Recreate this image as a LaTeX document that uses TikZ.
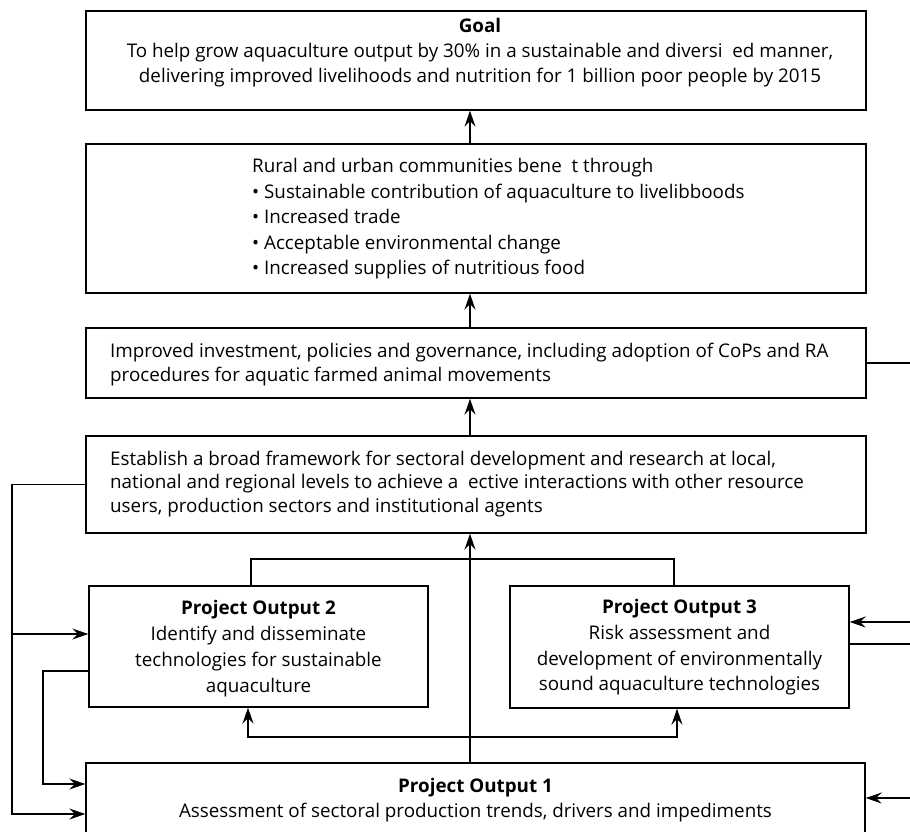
\documentclass[tikz,border=0pt]{standalone}
\usepackage{fontspec}
\setmainfont{Open Sans}
\usetikzlibrary{arrows.meta}
\begin{document}
\begin{tikzpicture}[x=1pt,y=-1pt,
  boxnode/.style={draw, line width=1.4pt, inner sep=0pt, minimum width=780pt},
  txt/.style={inner sep=0pt, font=\fontsize{18.8}{25}\selectfont},
  conn/.style={line width=1.3pt},
  arr/.style={line width=1.3pt, -{Stealth[length=16pt,width=11pt,inset=5.5pt]}},
  darr/.style={line width=1.3pt, {Stealth[length=16pt,width=11pt,inset=5.5pt]}-{Stealth[length=16pt,width=11pt,inset=5.5pt]}}]
\useasboundingbox (0,0) rectangle (910,831);
\clip (0,0) rectangle (910,831);
% boxes
\node[boxnode, minimum height=99pt] (goal) at (476,60.5) {};
\node[boxnode, minimum height=149pt] (out) at (476,218.5) {};
\node[boxnode, minimum height=70pt] (inv) at (476,363) {};
\node[boxnode, minimum height=97pt] (frame) at (476,484.5) {};
\node[boxnode, minimum width=339pt, minimum height=121pt] (p2) at (258.5,646.5) {};
\node[boxnode, minimum width=339pt, minimum height=122pt] (p3) at (679.5,647) {};
\node[boxnode, minimum width=779pt, minimum height=77pt] (p1) at (475.5,801.5) {};
% texts
\node[txt, align=center] (goalt) at (480,53) {\textbf{Goal}\\To help grow aquaculture output by 30\% in a sustainable and diversi~~ed manner,\\delivering improved livelihoods and nutrition for 1 billion poor people by 2015};
\node[txt, align=left, anchor=west, font=\fontsize{18.8}{25.5}\selectfont] (outt) at (252,219) {Rural and urban communities bene~~t through\\• Sustainable contribution of aquaculture to livelibboods\\• Increased trade\\• Acceptable environmental change\\• Increased supplies of nutritious food};
\node[txt, align=left, anchor=west, font=\fontsize{18.8}{24}\selectfont] (invt) at (110,365) {Improved investment, policies and governance, including adoption of CoPs and RA\\procedures for aquatic farmed animal movements};
\node[txt, align=left, anchor=west, font=\fontsize{18.8}{23.5}\selectfont] (frt) at (110,484) {Establish a broad framework for sectoral development and research at local,\\national and regional levels to achieve a~~ective interactions with other resource\\users, production sectors and institutional agents};
\node[txt, align=center, font=\fontsize{18.8}{26}\selectfont] (p2t) at (258.5,648.5) {\textbf{Project Output 2}\\Identify and disseminate\\technologies for sustainable\\aquaculture};
\node[txt, align=center, font=\fontsize{18.8}{25.7}\selectfont] (p3t) at (679.5,647.5) {\textbf{Project Output 3}\\Risk assessment and\\development of environmentally\\sound aquaculture technologies};
\node[txt, align=center] (p1t) at (475.5,800) {\textbf{Project Output 1}\\Assessment of sectoral production trends, drivers and impediments};
% coordinates
\coordinate (Lx) at (12,0);
\coordinate (Lx2) at (43,0);
\coordinate (Rx) at (910,0);
\coordinate (brL) at (251,559);
\coordinate (brR) at (674,559);
\coordinate (fbL) at (248,737);
\coordinate (fbR) at (677,737);
% vertical chain
\draw[arr] ([xshift=-6pt]out.north) -- ([xshift=-6pt]goal.south);
\draw[arr] ([xshift=-6pt]inv.north) -- ([xshift=-6pt]out.south);
\draw[arr] ([xshift=-6pt]frame.north) -- ([xshift=-6pt]inv.south);
\draw[arr] ([xshift=-5.5pt]p1.north) -- ([xshift=-6pt]frame.south);
% bracket from P2/P3
\draw[conn] (p2.north -| brL) -- (brL) -- (brR) -- (p3.north -| brR);
% feedback P2 <-> P3
\draw[darr] (p2.south -| fbL) -- (fbL) -- (fbR) -- (p3.south -| fbR);
% left loops
\draw[arr] (frame.west) -- (frame.west -| Lx) -- ([yshift=-12.5pt]p1.west -| Lx) -- ([yshift=-12.5pt]p1.west);
\draw[arr] ([yshift=12.5pt]p2.west -| Lx) -- ([yshift=12.5pt]p2.west);
\draw[arr] ([yshift=-24.5pt]p2.west) -- ([yshift=-24.5pt]p2.west -| Lx2) -- ([yshift=17.5pt]p1.west -| Lx2) -- ([yshift=17.5pt]p1.west);
% right side
\draw[conn] (inv.east) -- (inv.east -| Rx);
\draw[arr] ([yshift=25pt]p3.east -| Rx) -- ([yshift=25pt]p3.east);
\draw[conn] ([yshift=3pt]p3.east) -- ([yshift=3pt]p3.east -| Rx);
\draw[arr] ([yshift=3.5pt]p1.east -| Rx) -- ([yshift=3.5pt]p1.east);
\end{tikzpicture}
\end{document}
